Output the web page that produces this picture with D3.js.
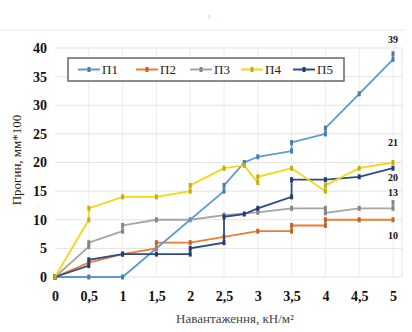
<!DOCTYPE html>
<html><head><meta charset="utf-8">
<script src="https://cdn.jsdelivr.net/npm/d3@7"></script>
<style>body{margin:0;background:#fff}svg{display:block}</style>
</head><body>
<script>
const xTicks = [0,0.5,1,1.5,2,2.5,3,3.5,4,4.5,5];
const xTickLabels = ["0","0,5","1","1,5","2","2,5","3","3,5","4","4,5","5"];
const yTicks = [0,5,10,15,20,25,30,35,40];
const seriesNames = ["П1","П2","П3","П4","П5"];
const seriesColors = ["#5b9bd5","#ed7d31","#a5a5a5","#f2d816","#2f4a8a"];

const p1x = [0,0.5,1,2.5,2.5,2.8,3,3.5,3.5,4,4,4.5,5,5];
const p1y = [0,0,0,15,16,20,21,22,23.5,25,26,32,38,39];
const p2x = [0,0.5,1,1.5,1.5,2,2.5,3,3.5,3.5,4,4,4.5,5];
const p2y = [0,2.5,4,5,6,6,7,8,8,9,9,10,10,10];
const p3x = [0,0.5,0.5,1,1,1.5,2,2.5,3,3.5,4,4,4.5,5,5];
const p3y = [0,5.3,6,8,9,10,10,10.8,11.3,12,12,11.2,12,12,13];
const p4x = [0,0.5,0.5,1,1.5,2,2,2.5,2.8,3,3,3.5,4,4,4.5,5];
const p4y = [0,10,12,14,14,15,16,19,19.5,16.5,17.5,19,15,16,19,20];
const p5x = [0,0.5,0.5,1,1.5,2,2,2.5,2.5,2.8,3,3.5,3.5,4,4.5,5];
const p5y = [0,2,3,4,4,4,5,6,10.5,11,12,14,17,17,17.5,19];

const endLabels = ["39","21","20","13","10"];
const endLabelValues = [41.5,23.5,17.5,14.8,7.3];

const W=412,H=332;
const svg=d3.select("body").append("svg").attr("width",W).attr("height",H);
const x=d3.scaleLinear().domain([0,5]).range([55,393]);
const y=d3.scaleLinear().domain([0,40]).range([277,48]);

svg.append("line").attr("x1",0).attr("x2",405).attr("y1",30).attr("y2",30).attr("stroke","#e6e6e6");

svg.append("g").selectAll("line").data(yTicks).join("line")
 .attr("x1",55).attr("x2",402).attr("y1",d=>y(d)).attr("y2",d=>y(d))
 .attr("stroke","#e3e3e3").attr("stroke-width",1);
svg.append("g").selectAll("line").data(xTicks.slice(1)).join("line")
 .attr("x1",d=>x(d)).attr("x2",d=>x(d)).attr("y1",y(40)).attr("y2",y(0))
 .attr("stroke","#ececec").attr("stroke-width",1);
svg.append("line").attr("x1",402).attr("x2",402).attr("y1",y(40)).attr("y2",y(0)).attr("stroke","#e3e3e3");

const yAxis=svg.append("g").attr("transform","translate(47,0)")
 .call(d3.axisLeft(y).tickValues(yTicks).tickSize(0).tickPadding(0));
yAxis.select(".domain").remove();
yAxis.selectAll("text").attr("font-family","Liberation Serif").attr("font-weight","bold").attr("font-size",14).attr("fill","#111");
const xAxis=svg.append("g").attr("transform","translate(0,291)")
 .call(d3.axisBottom(x).tickValues(xTicks).tickFormat((d,i)=>xTickLabels[i]).tickSize(0).tickPadding(0));
xAxis.select(".domain").remove();
xAxis.selectAll("text").attr("font-family","Liberation Serif").attr("font-weight","bold").attr("font-size",14).attr("fill","#111");

svg.append("text").attr("transform","translate(21,160) rotate(-90)").attr("text-anchor","middle")
 .attr("font-family","Liberation Serif").attr("font-size",13).attr("fill","#222").text("Прогин, мм*100");
svg.append("text").attr("x",235).attr("y",323).attr("text-anchor","middle")
 .attr("font-family","Liberation Serif").attr("font-size",13).attr("fill","#444").text("Навантаження, кН/м²");

const series=[[p1x,p1y],[p2x,p2y],[p3x,p3y],[p4x,p4y],[p5x,p5y]];
const line=d3.line().x(d=>x(d[0])).y(d=>y(d[1]));
const order=[2,1,0,4,3];
order.forEach(i=>{
  const pts=series[i][0].map((v,j)=>[v,series[i][1][j]]);
  svg.append("path").datum(pts).attr("d",line).attr("fill","none")
    .attr("stroke",seriesColors[i]).attr("stroke-width",1.8);
  svg.append("g").selectAll("rect").data(pts).join("rect")
    .attr("x",d=>x(d[0])-1.5).attr("y",d=>y(d[1])-2.5).attr("width",3).attr("height",5)
    .attr("fill",d3.color(seriesColors[i]).darker(0.6));
});

svg.append("g").selectAll("text").data(endLabels).join("text")
 .attr("x",x(5)).attr("y",(d,i)=>y(endLabelValues[i])+4).attr("text-anchor","middle")
 .attr("font-family","Liberation Serif").attr("font-weight","bold").attr("font-size",10).attr("fill","#111")
 .text(d=>d);

const lg=svg.append("g");
lg.append("rect").attr("x",68).attr("y",58).attr("width",276).attr("height",23)
 .attr("fill","#fff").attr("stroke","#666").attr("stroke-width",1.5);
const lx=[78,136,190,241,293];
seriesNames.forEach((n,i)=>{
  lg.append("line").attr("x1",lx[i]).attr("x2",lx[i]+22).attr("y1",69.5).attr("y2",69.5)
   .attr("stroke",seriesColors[i]).attr("stroke-width",2);
  lg.append("rect").attr("x",lx[i]+9.5).attr("y",67).attr("width",3).attr("height",5)
   .attr("fill",d3.color(seriesColors[i]).darker(0.6));
  lg.append("text").attr("x",lx[i]+24).attr("y",74).attr("font-family","Liberation Serif")
   .attr("font-size",13).attr("fill","#222").text(n);
});
svg.append("text").attr("x",208).attr("y",19).attr("font-size",8).attr("fill","#bbb").text("ı");
</script>
</body></html>
